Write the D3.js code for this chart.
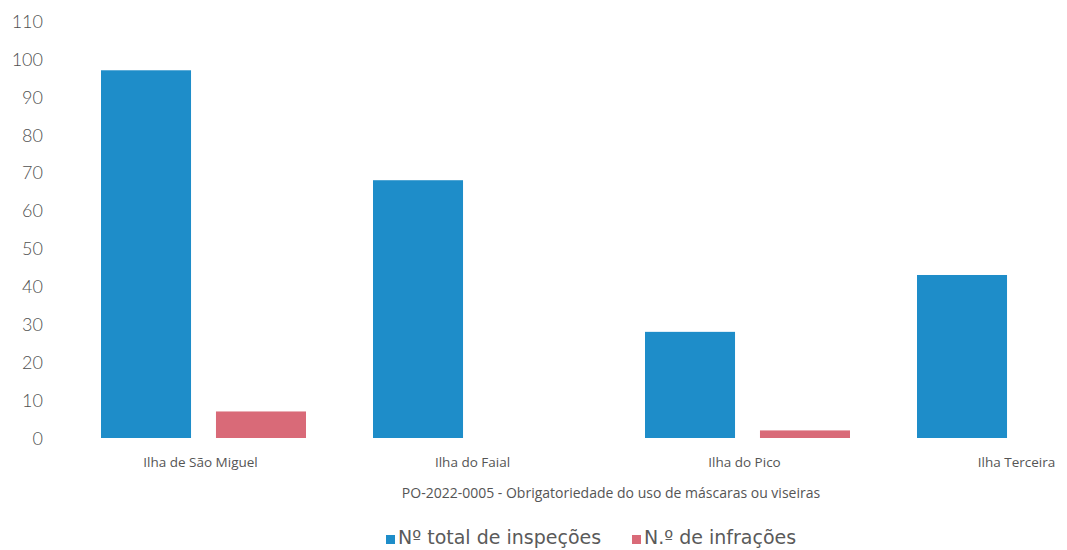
<!DOCTYPE html>
<html>
<head>
<meta charset="utf-8">
<script src="https://cdn.jsdelivr.net/npm/d3@7"></script>
<style>
  html, body { margin: 0; padding: 0; background: #fff; }
  svg { display: block; }
  .ytick text { font-family: Lato, sans-serif; font-size: 18px; font-weight: 300; fill: #505050; }
  .cat { font-family: "Open Sans", sans-serif; font-size: 13.5px; fill: #555; }
  .title { font-family: "Open Sans", sans-serif; font-size: 14px; fill: #555; }
  .legend { font-family: "DejaVu Sans", sans-serif; font-size: 19px; fill: #5a5a5a; }
</style>
</head>
<body>
<svg id="chart" width="1067" height="550"></svg>
<script>
// Inspection results by island
const islands = ["Ilha de São Miguel", "Ilha do Faial", "Ilha do Pico", "Ilha Terceira"];
const seriesNames = ["Nº total de inspeções", "N.º de infrações"];
const totalInspections = [97, 68, 28, 43];
const infractions = [7, 0, 2, 0];
const yTicks = [0, 10, 20, 30, 40, 50, 60, 70, 80, 90, 100, 110];
const chartTitle = "PO-2022-0005 - Obrigatoriedade do uso de máscaras ou viseiras";

const colors = ["#1e8dc9", "#d96a78"];
const seriesValues = [totalInspections, infractions];

const svg = d3.select("#chart");

const y = d3.scaleLinear().domain([0, 110]).range([438, 21]);

// Category bands (the plot runs past the right edge of the page)
const x0 = d3.scaleBand().domain(islands).range([67.5, 1155.5]).paddingInner(0).paddingOuter(0);
const x1 = d3.scaleBand().domain([0, 1]).range([33.5, 238.5]).paddingInner(0.217).paddingOuter(0);

// Y axis: labels only
const yAxis = d3.axisLeft(y).tickValues(yTicks).tickSize(0).tickPadding(0);
const gy = svg.append("g").attr("transform", "translate(43,0)").call(yAxis);
gy.select(".domain").remove();
gy.selectAll(".tick").attr("class", "tick ytick");
gy.selectAll("text").attr("dy", "0.35em");

// Bars
const groups = svg.append("g").selectAll("g")
  .data(islands)
  .join("g")
  .attr("transform", d => `translate(${x0(d)},0)`);

groups.selectAll("rect")
  .data((d, i) => seriesValues.map((vals, s) => ({ s, v: vals[i] })))
  .join("rect")
  .attr("x", d => x1(d.s))
  .attr("width", x1.bandwidth())
  .attr("y", d => y(d.v))
  .attr("height", d => y(0) - y(d.v))
  .attr("fill", d => colors[d.s]);

// Category labels
svg.append("g").selectAll("text")
  .data(islands)
  .join("text")
  .attr("class", "cat")
  .attr("x", d => x0(d) + 133)
  .attr("y", 467)
  .attr("text-anchor", "middle")
  .text(d => d);

// Axis title
svg.append("text")
  .attr("class", "title")
  .attr("x", 611)
  .attr("y", 498)
  .attr("text-anchor", "middle")
  .text(chartTitle);

// Legend
const legendX = [386, 632];
const lg = svg.append("g").selectAll("g")
  .data(seriesNames)
  .join("g")
  .attr("transform", (d, i) => `translate(${legendX[i]},0)`);
lg.append("rect").attr("x", 0).attr("y", 535).attr("width", 9).attr("height", 9)
  .attr("fill", (d, i) => colors[i]);
lg.append("text").attr("class", "legend").attr("x", 12).attr("y", 544).text(d => d);
</script>
</body>
</html>
